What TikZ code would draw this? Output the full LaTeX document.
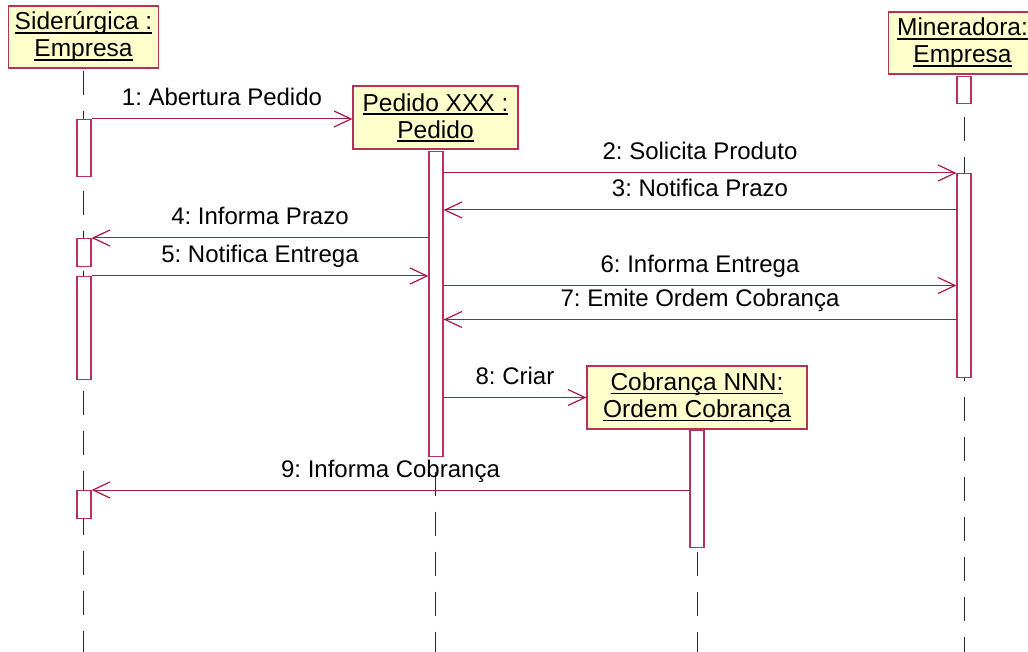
\documentclass[tikz,border=0pt]{standalone}
\usepackage{fontspec}
\setmainfont{Liberation Sans}
\usetikzlibrary{arrows.meta}

\definecolor{umlline}{RGB}{165,25,75}
\definecolor{umlborder}{RGB}{182,50,92}
\definecolor{umlfill}{RGB}{255,255,204}

\frenchspacing
% underline at a fixed distance below the baseline
\newcommand{\ulin}[1]{\leavevmode\setbox0\hbox{#1}%
  \rlap{\vrule width\wd0 height -2.3pt depth 3.7pt}\box0}
\newcommand{\objfont}{\fontsize{24.5}{27}\selectfont}
\newcommand{\lblfont}{\fontsize{24}{27}\selectfont}

\tikzset{
  obj/.style={draw=umlborder, fill=umlfill, line width=1.2pt, inner sep=0pt,
              align=center, font=\objfont},
  act/.style={draw=umlborder, fill=white, line width=1.1pt, minimum width=14pt,
              inner sep=0pt, anchor=north},
  life/.style={draw=black!85, line width=1pt, dash pattern=on 24pt off 16pt,
               dash phase=38pt},
  msg/.style={draw=umlline, line width=1pt,
              -{Straight Barb[length=17pt,width=16pt,line width=1.2pt]}},
  lbl/.style={anchor=base, yshift=13pt, font=\lblfont, inner sep=0pt},
}

\begin{document}
\begin{tikzpicture}[x=1pt,y=-1pt]
  \fill[white] (0,0) rectangle (1028,652);
  \useasboundingbox (0,0) rectangle (1028,652);

  % helper rows and columns
  \coordinate (bottom) at (0,652);
  \coordinate (minx) at (964,0);
  \coordinate (y3) at (0,210);
  \coordinate (y6) at (0,285.5);
  \coordinate (y7) at (0,319.5);

  % objects
  \node[obj, minimum width=150pt, minimum height=62pt] (sid) at (83.5,37)
    {\ulin{Siderúrgica :}\\\ulin{Empresa}};
  \node[obj, minimum width=165pt, minimum height=63pt] (ped) at (435.5,117.5)
    {\ulin{Pedido XXX :}\\\ulin{Pedido}};
  \node[obj, minimum width=148pt, minimum height=62pt] (min) at (962.5,43)
    {\ulin{Mineradora:}\\\ulin{Empresa}};
  \node[obj, minimum width=220pt, minimum height=63pt] (cob) at (697,397.5)
    {\ulin{Cobrança NNN:}\\\ulin{Ordem Cobrança}};

  % lifelines
  \draw[life] (sid.south) -- (sid.south |- bottom);
  \draw[life] (ped.south) -- (ped.south |- bottom);
  \draw[life] (minx |- min.south) -- (minx |- bottom);
  \draw[life] (cob.south) -- (cob.south |- bottom);

  % activations
  \node[act, minimum height=57pt]  (sA1) at (84,119) {};
  \node[act, minimum height=28pt]  (sA2) at (84,238) {};
  \node[act, minimum height=103pt] (sA3) at (84,276) {};
  \node[act, minimum height=28pt]  (sA4) at (84,490) {};
  \node[act, minimum height=305pt] (pA)  at (436,151) {};
  \node[act, minimum height=27pt]  (mA1) at (964,76) {};
  \node[act, minimum height=204pt] (mA2) at (964,173) {};
  \node[act, minimum height=117pt] (cA)  at (697,430) {};

  % messages
  \draw[msg] (sA1.north east) -- node[lbl]{1: Abertura Pedido} (ped.west |- sA1.north east);
  \draw[msg] (mA2.north west -| pA.east) -- node[lbl]{2: Solicita Produto} (mA2.north west);
  \draw[msg] (mA2.west |- y3) -- node[lbl]{3: Notifica Prazo} (pA.east |- y3);
  \draw[msg] (sA2.north east -| pA.west) -- node[lbl]{4: Informa Prazo} (sA2.north east);
  \draw[msg] (sA3.north east) -- node[lbl]{5: Notifica Entrega} (sA3.north east -| pA.west);
  \draw[msg] (pA.east |- y6) -- node[lbl]{6: Informa Entrega} (mA2.west |- y6);
  \draw[msg] (mA2.west |- y7) -- node[lbl]{7: Emite Ordem Cobrança} (pA.east |- y7);
  \draw[msg] (pA.east |- cob.west) -- node[lbl]{8: Criar} (cob.west);
  \draw[msg] (cA.west |- sA4.north) -- node[lbl]{9: Informa Cobrança} (sA4.north east);
\end{tikzpicture}
\end{document}
